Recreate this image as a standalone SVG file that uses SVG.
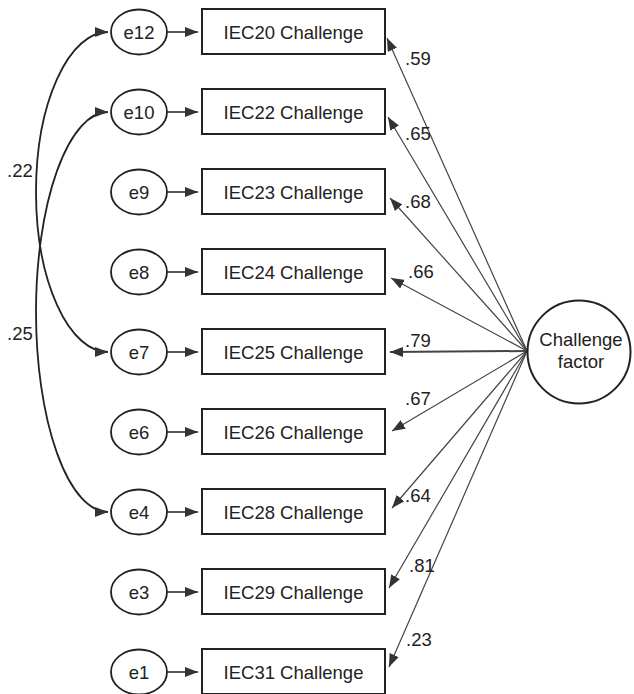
<svg xmlns="http://www.w3.org/2000/svg" width="634" height="694" viewBox="0 0 634 694">
<style>
text{font-family:"Liberation Sans",Arial,sans-serif;font-size:18.5px;fill:#222}
.box{fill:#fff;stroke:#222;stroke-width:2}
.err{fill:#fff;stroke:#222;stroke-width:1.8}
.lbl{text-anchor:middle}
.ld{stroke:#444;stroke-width:1.2;fill:none;marker-end:url(#ah)}
.er{stroke:#444;stroke-width:1.8;fill:none;marker-end:url(#ah)}
.cov{stroke:#222;stroke-width:1.8;fill:none;marker-start:url(#ahs);marker-end:url(#ah)}
</style>
<defs>
<marker id="ah" viewBox="0 0 13 10" refX="13" refY="5" markerWidth="13" markerHeight="10" markerUnits="userSpaceOnUse" orient="auto"><path d="M0,0 L13,5 L0,10 z" fill="#333"/></marker>
<marker id="ahs" viewBox="0 0 13 10" refX="13" refY="5" markerWidth="13" markerHeight="10" markerUnits="userSpaceOnUse" orient="auto-start-reverse"><path d="M0,0 L13,5 L0,10 z" fill="#333"/></marker>
</defs>
<g id="connectors">
<path class="cov" d="M108,32 A72,160 0 0,0 108,352"/>
<path class="cov" d="M108,112 A72,200 0 0,0 108,512"/>
<line class="er" x1="167" y1="32" x2="198" y2="32"/>
<line class="er" x1="167" y1="112" x2="198" y2="112"/>
<line class="er" x1="167" y1="192" x2="198" y2="192"/>
<line class="er" x1="167" y1="272" x2="198" y2="272"/>
<line class="er" x1="167" y1="352" x2="198" y2="352"/>
<line class="er" x1="167" y1="432" x2="198" y2="432"/>
<line class="er" x1="167" y1="512" x2="198" y2="512"/>
<line class="er" x1="167" y1="592" x2="198" y2="592"/>
<line class="er" x1="167" y1="672" x2="198" y2="672"/>
<line class="ld" x1="527" y1="351" x2="387" y2="38"/>
<line class="ld" x1="527" y1="351" x2="388" y2="117"/>
<line class="ld" x1="527" y1="351" x2="390" y2="198"/>
<line class="ld" x1="527" y1="351" x2="391" y2="278"/>
<line class="ld" x1="527" y1="351" x2="390" y2="352" style="stroke-width:2"/>
<line class="ld" x1="527" y1="351" x2="392" y2="431"/>
<line class="ld" x1="527" y1="351" x2="392" y2="508"/>
<line class="ld" x1="527" y1="351" x2="389" y2="588"/>
<line class="ld" x1="527" y1="351" x2="389" y2="667"/>
<text x="7" y="177">.22</text>
<text x="7" y="340">.25</text>
<text x="405" y="65">.59</text>
<text x="405" y="140">.65</text>
<text x="405" y="208">.68</text>
<text x="408" y="278">.66</text>
<text x="405" y="347">.79</text>
<text x="405" y="405">.67</text>
<text x="405" y="502">.64</text>
<text x="409" y="572">.81</text>
<text x="406" y="646">.23</text>
</g>
<g id="e12"><ellipse class="err" cx="139" cy="32" rx="28" ry="22.5"/><text class="lbl" x="139" y="39">e12</text></g>
<g id="e10"><ellipse class="err" cx="139" cy="112" rx="28" ry="22.5"/><text class="lbl" x="139" y="119">e10</text></g>
<g id="e9"><ellipse class="err" cx="139" cy="192" rx="28" ry="22.5"/><text class="lbl" x="139" y="199">e9</text></g>
<g id="e8"><ellipse class="err" cx="139" cy="272" rx="28" ry="22.5"/><text class="lbl" x="139" y="279">e8</text></g>
<g id="e7"><ellipse class="err" cx="139" cy="352" rx="28" ry="22.5"/><text class="lbl" x="139" y="359">e7</text></g>
<g id="e6"><ellipse class="err" cx="139" cy="432" rx="28" ry="22.5"/><text class="lbl" x="139" y="439">e6</text></g>
<g id="e4"><ellipse class="err" cx="139" cy="512" rx="28" ry="22.5"/><text class="lbl" x="139" y="519">e4</text></g>
<g id="e3"><ellipse class="err" cx="139" cy="592" rx="28" ry="22.5"/><text class="lbl" x="139" y="599">e3</text></g>
<g id="e1"><ellipse class="err" cx="139" cy="672" rx="28" ry="22.5"/><text class="lbl" x="139" y="679">e1</text></g>
<g id="IEC20"><rect class="box" x="202" y="9" width="183" height="45"/><text class="lbl" x="293.5" y="39">IEC20 Challenge</text></g>
<g id="IEC22"><rect class="box" x="202" y="89" width="183" height="45"/><text class="lbl" x="293.5" y="119">IEC22 Challenge</text></g>
<g id="IEC23"><rect class="box" x="202" y="169" width="183" height="45"/><text class="lbl" x="293.5" y="199">IEC23 Challenge</text></g>
<g id="IEC24"><rect class="box" x="202" y="249" width="183" height="45"/><text class="lbl" x="293.5" y="279">IEC24 Challenge</text></g>
<g id="IEC25"><rect class="box" x="202" y="329" width="183" height="45"/><text class="lbl" x="293.5" y="359">IEC25 Challenge</text></g>
<g id="IEC26"><rect class="box" x="202" y="409" width="183" height="45"/><text class="lbl" x="293.5" y="439">IEC26 Challenge</text></g>
<g id="IEC28"><rect class="box" x="202" y="489" width="183" height="45"/><text class="lbl" x="293.5" y="519">IEC28 Challenge</text></g>
<g id="IEC29"><rect class="box" x="202" y="569" width="183" height="45"/><text class="lbl" x="293.5" y="599">IEC29 Challenge</text></g>
<g id="IEC31"><rect class="box" x="202" y="649" width="183" height="45"/><text class="lbl" x="293.5" y="679">IEC31 Challenge</text></g>
<g id="factor"><circle cx="579" cy="352" r="51.5" fill="#fff" stroke="#222" stroke-width="2"/><text class="lbl" x="581" y="346">Challenge</text><text class="lbl" x="581" y="368">factor</text></g>
</svg>
